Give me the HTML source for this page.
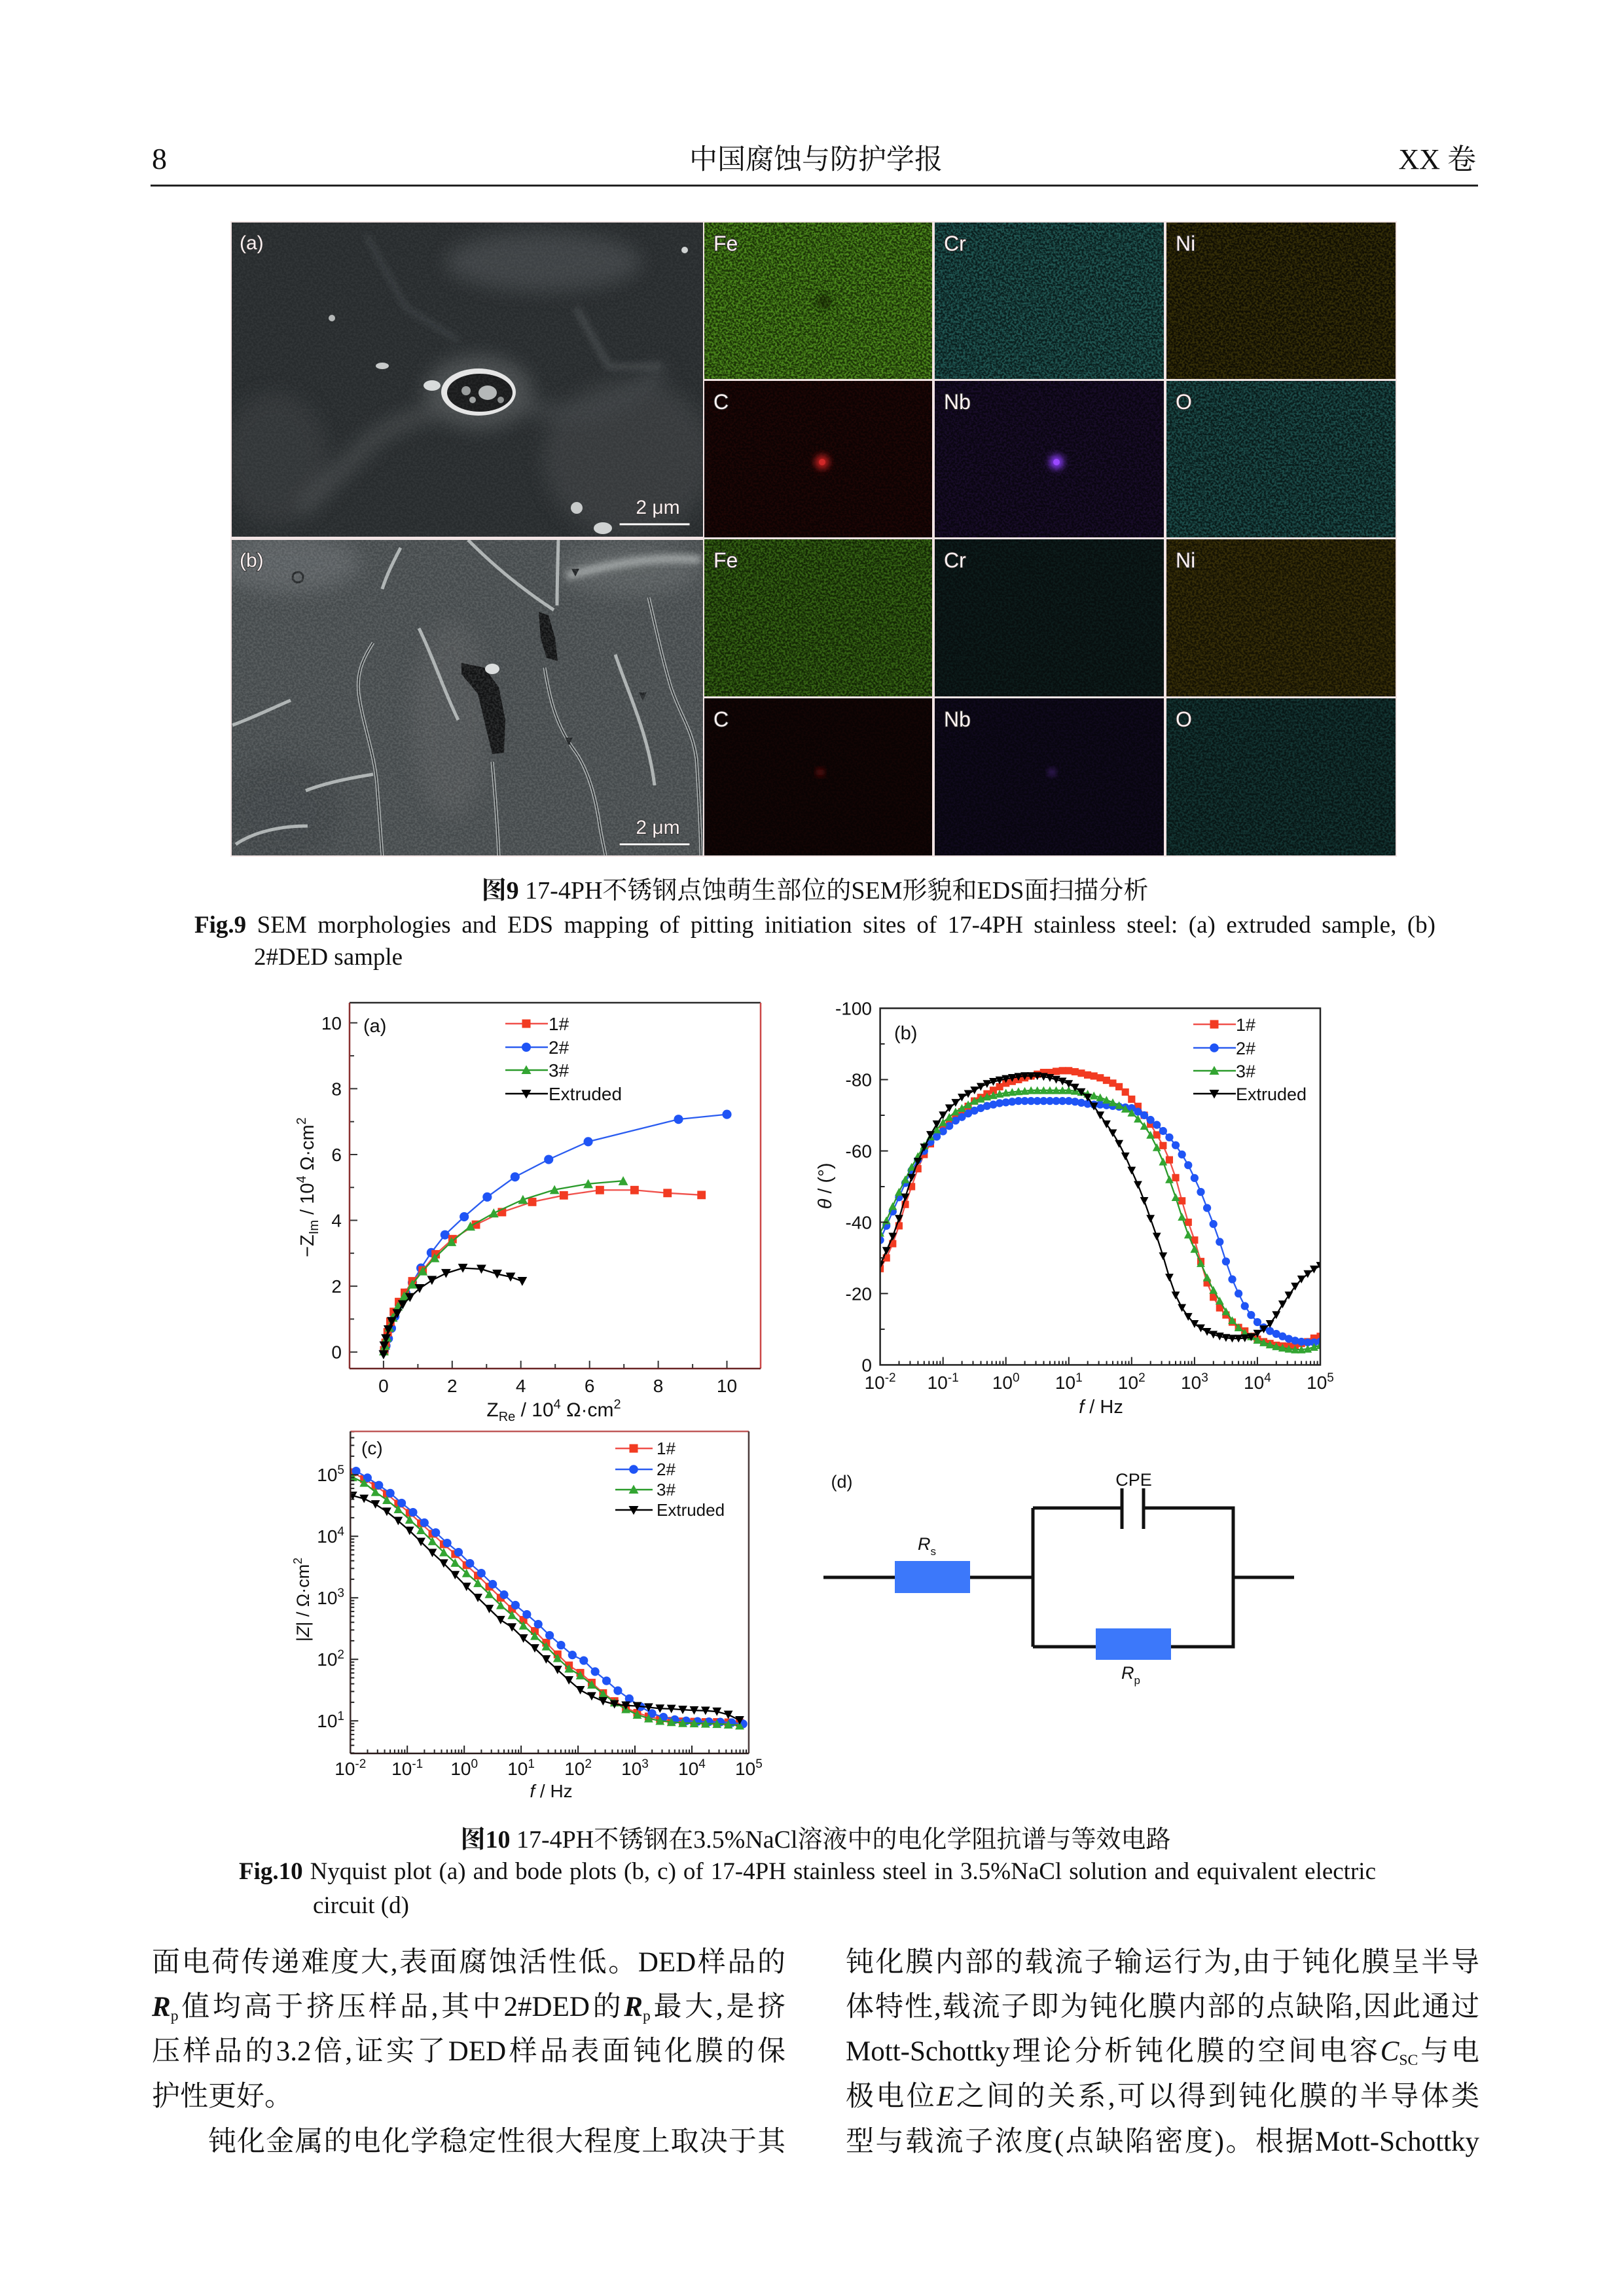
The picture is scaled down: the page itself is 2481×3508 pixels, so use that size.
<!DOCTYPE html>
<html><head><meta charset="utf-8">
<style>
html,body{margin:0;padding:0;background:#fff}
body{width:2481px;height:3508px;position:relative;overflow:hidden}
.t{position:absolute;white-space:nowrap;font-family:"Liberation Serif","Noto Serif CJK SC",serif;color:#111;line-height:50px}
.j{text-align:justify;text-align-last:justify;white-space:normal}
.t sub{font-size:0.55em;vertical-align:-0.3em;line-height:0}
svg text{font-family:"Liberation Sans",Arial,sans-serif}
.ln{fill:none;stroke-width:2.3;vector-effect:non-scaling-stroke}
</style></head><body>

<!-- header -->
<div class="t" style="left:232px;top:218px;font-size:46px">8</div>
<div class="t" style="left:1053px;top:220px;font-size:43px">中国腐蚀与防护学报</div>
<div class="t" style="right:226px;top:219px;font-size:44px">XX 卷</div>
<div style="position:absolute;left:230px;top:282px;width:2028px;height:3px;background:#222"></div>

<svg width="2481" height="3508" style="position:absolute;left:0;top:0" xmlns="http://www.w3.org/2000/svg">
<defs>
 <filter id="nf" x="0" y="0" width="100%" height="100%" color-interpolation-filters="sRGB">
  <feTurbulence type="fractalNoise" baseFrequency="0.32" numOctaves="2" seed="7"/>
  <feColorMatrix type="matrix" values="0 0 0 0 1  0 0 0 0 1  0 0 0 0 1  3.5 0 0 0 -1.3"/>
 </filter>
 <mask id="mk" maskUnits="userSpaceOnUse" x="350" y="335" width="1790" height="980">
  <rect x="350" y="335" width="1790" height="980" fill="#fff" filter="url(#nf)"/>
 </mask>
 <filter id="b12" x="-50%" y="-50%" width="200%" height="200%"><feGaussianBlur stdDeviation="14"/></filter>
 <filter id="b5" x="-50%" y="-50%" width="200%" height="200%"><feGaussianBlur stdDeviation="5"/></filter>
 <clipPath id="sa"><rect x="354" y="340" width="720" height="480"/></clipPath>
 <clipPath id="sb"><rect x="354" y="825" width="720" height="482"/></clipPath>
 <clipPath id="ca"><rect x="534" y="1532" width="628" height="559"/></clipPath>
 <clipPath id="cb"><rect x="1344.6" y="1540.5" width="672.4" height="544.9"/></clipPath>
 <clipPath id="cc"><rect x="535.3" y="2187" width="608.6" height="492"/></clipPath>

 <marker id="aS" markerUnits="userSpaceOnUse" viewBox="0 0 14 14" refX="7" refY="7" markerWidth="0.286" markerHeight="0.298" preserveAspectRatio="none"><rect x="1" y="1" width="12" height="12" fill="#f23b22"/></marker>
 <marker id="aC" markerUnits="userSpaceOnUse" viewBox="0 0 14 14" refX="7" refY="7" markerWidth="0.286" markerHeight="0.298" preserveAspectRatio="none"><circle cx="7" cy="7" r="6.6" fill="#1f54f5"/></marker>
 <marker id="aT" markerUnits="userSpaceOnUse" viewBox="0 0 14 14" refX="7" refY="7" markerWidth="0.286" markerHeight="0.298" preserveAspectRatio="none"><polygon points="7,0.3 13.9,13.2 0.1,13.2" fill="#33a532"/></marker>
 <marker id="aD" markerUnits="userSpaceOnUse" viewBox="0 0 14 14" refX="7" refY="7" markerWidth="0.286" markerHeight="0.298" preserveAspectRatio="none"><polygon points="0.1,0.8 13.9,0.8 7,13.7" fill="#000"/></marker>
 <marker id="bS" markerUnits="userSpaceOnUse" viewBox="0 0 14 14" refX="7" refY="7" markerWidth="0.1353" markerHeight="2.386" preserveAspectRatio="none"><rect x="1" y="1" width="12" height="12" fill="#f23b22"/></marker>
 <marker id="bC" markerUnits="userSpaceOnUse" viewBox="0 0 14 14" refX="7" refY="7" markerWidth="0.1353" markerHeight="2.386" preserveAspectRatio="none"><circle cx="7" cy="7" r="6.6" fill="#1f54f5"/></marker>
 <marker id="bT" markerUnits="userSpaceOnUse" viewBox="0 0 14 14" refX="7" refY="7" markerWidth="0.1353" markerHeight="2.386" preserveAspectRatio="none"><polygon points="7,0.3 13.9,13.2 0.1,13.2" fill="#33a532"/></marker>
 <marker id="bD" markerUnits="userSpaceOnUse" viewBox="0 0 14 14" refX="7" refY="7" markerWidth="0.1353" markerHeight="2.386" preserveAspectRatio="none"><polygon points="0.1,0.8 13.9,0.8 7,13.7" fill="#000"/></marker>
 <marker id="cS" markerUnits="userSpaceOnUse" viewBox="0 0 14 14" refX="7" refY="7" markerWidth="0.161" markerHeight="0.1489" preserveAspectRatio="none"><rect x="1" y="1" width="12" height="12" fill="#f23b22"/></marker>
 <marker id="cC" markerUnits="userSpaceOnUse" viewBox="0 0 14 14" refX="7" refY="7" markerWidth="0.161" markerHeight="0.1489" preserveAspectRatio="none"><circle cx="7" cy="7" r="6.6" fill="#1f54f5"/></marker>
 <marker id="cT" markerUnits="userSpaceOnUse" viewBox="0 0 14 14" refX="7" refY="7" markerWidth="0.161" markerHeight="0.1489" preserveAspectRatio="none"><polygon points="7,0.3 13.9,13.2 0.1,13.2" fill="#33a532"/></marker>
 <marker id="cD" markerUnits="userSpaceOnUse" viewBox="0 0 14 14" refX="7" refY="7" markerWidth="0.161" markerHeight="0.1489" preserveAspectRatio="none"><polygon points="0.1,0.8 13.9,0.8 7,13.7" fill="#000"/></marker>

 <path id="decb" d="M28.9 0v-6M45.8 0v-6M57.8 0v-6M67.2 0v-6M74.7 0v-6M81.2 0v-6M86.8 0v-6M91.7 0v-6"/>
 <path id="decc" d="M26.2 0v-6M41.5 0v-6M52.3 0v-6M60.8 0v-6M67.6 0v-6M73.5 0v-6M78.5 0v-6M83 0v-6"/>
 <path id="decy" d="M0 -28.3h6M0 -44.8h6M0 -56.6h6M0 -65.7h6M0 -73.1h6M0 -79.4h6M0 -84.9h6M0 -89.7h6"/>
</defs>

<!-- ============ FIGURE 9 ============ -->
<rect x="352" y="338" width="1782" height="971" fill="#f2e4e4"/>

<!-- SEM (a) -->
<g clip-path="url(#sa)">
 <rect x="354" y="340" width="720" height="480" fill="#282c2e"/>
 <g filter="url(#b12)" opacity="0.5">
  <ellipse cx="830" cy="400" rx="150" ry="45" fill="#55595b"/>
  <ellipse cx="960" cy="700" rx="130" ry="120" fill="#46494b"/>
  <ellipse cx="420" cy="700" rx="80" ry="100" fill="#3c4042"/>
  <path d="M705 620 Q600 640 560 680 T460 780" stroke="#5e6264" stroke-width="22" fill="none"/>
  <path d="M790 620 Q880 640 930 620 Q980 600 1010 560" stroke="#55595b" stroke-width="20" fill="none"/>
  <ellipse cx="731" cy="599" rx="82" ry="56" fill="#6a6e70"/>
 </g>
 <path d="M560 360 L620 470 L700 520" stroke="#3e4244" stroke-width="6" fill="none" filter="url(#b5)"/>
 <path d="M880 470 L930 560 L1010 560" stroke="#45494b" stroke-width="8" fill="none" filter="url(#b5)"/>
 <ellipse cx="731" cy="599" rx="57" ry="36" fill="#e6e6e6"/>
 <ellipse cx="733" cy="600" rx="50" ry="29" fill="#1a1b1c"/>
 <ellipse cx="745" cy="600" rx="14" ry="11" fill="#b5b8b8"/>
 <circle cx="712" cy="597" r="7" fill="#9a9d9d"/>
 <circle cx="765" cy="611" r="5" fill="#8a8d8d"/>
 <circle cx="722" cy="611" r="5" fill="#a0a3a3"/>
 <ellipse cx="660" cy="589" rx="13" ry="8" fill="#d9dcdc"/>
 <circle cx="1046" cy="382" r="5" fill="#d0d3d3"/>
 <ellipse cx="584" cy="559" rx="10" ry="5" fill="#c8cbcb"/>
 <circle cx="881" cy="776" r="9" fill="#c8cbcb"/>
 <ellipse cx="921" cy="807" rx="14" ry="9" fill="#d0d3d3"/>
 <circle cx="507" cy="486" r="5" fill="#b5b8b8"/>
 <rect x="354" y="340" width="720" height="480" fill="#c0c4c4" mask="url(#mk)" opacity="0.06"/>
</g>

<!-- SEM (b) -->
<g clip-path="url(#sb)">
 <rect x="354" y="825" width="720" height="482" fill="#464b4d"/>
 <g filter="url(#b12)" opacity="0.75">
  <ellipse cx="440" cy="860" rx="110" ry="45" fill="#606568"/>
  <ellipse cx="430" cy="1240" rx="90" ry="80" fill="#3d4244"/>
  <ellipse cx="960" cy="870" rx="110" ry="40" fill="#5d6264"/>
  <ellipse cx="690" cy="1100" rx="60" ry="150" fill="#535759"/>
 </g>
 <g fill="none" stroke="#aeb3b3" stroke-width="5">
  <path d="M570 982 C552 1010 545 1030 548 1060 C555 1110 572 1150 576 1200 C580 1250 582 1280 584 1307"/>
  <path d="M832 1020 C840 1070 850 1110 880 1150 C900 1180 910 1220 916 1260 C920 1285 924 1300 925 1307"/>
  <path d="M991 913 C1000 950 1010 1000 1025 1050 C1040 1095 1058 1115 1064 1160 C1068 1220 1070 1270 1071 1307"/>
  <path d="M715 825 C750 860 790 895 846 932"/>
  <path d="M853 825 C852 860 851 895 851 925"/>
  <path d="M752 1164 C756 1210 760 1260 762 1307"/>
  <path d="M467 1208 C500 1195 540 1188 570 1183"/>
  <path d="M355 1108 C390 1095 420 1080 444 1070"/>
  <path d="M612 837 C600 860 590 880 584 900"/>
  <path d="M360 1290 C390 1270 430 1262 470 1262"/>
  <path d="M640 960 C660 1000 680 1060 700 1100"/>
  <path d="M940 1000 C960 1060 990 1120 1000 1200"/>
 </g>
 <path d="M866 880 C940 860 1000 850 1070 855" stroke="#9ea3a3" stroke-width="12" fill="none" filter="url(#b5)"/>
 <g fill="none" stroke="#2e3234" stroke-width="2">
  <path d="M570 982 C552 1010 545 1030 548 1060 C555 1110 572 1150 576 1200 C580 1250 582 1280 584 1307"/>
  <path d="M832 1020 C840 1070 850 1110 880 1150 C900 1180 910 1220 916 1260 C920 1285 924 1300 925 1307"/>
  <path d="M991 913 C1000 950 1010 1000 1025 1050 C1040 1095 1058 1115 1064 1160 C1068 1220 1070 1270 1071 1307"/>
  <path d="M752 1164 C756 1210 760 1260 762 1307"/>
 </g>
 <path d="M705 1013 L740 1020 L762 1050 L772 1100 L770 1150 L752 1152 L742 1110 L730 1060 L705 1030 Z" fill="#121314"/>
 <path d="M823 935 L838 940 L848 975 L852 1010 L835 1005 L826 975 Z" fill="#121314"/>
 <ellipse cx="752" cy="1022" rx="11" ry="8" fill="#dcdfdf"/>
 <polygon points="976,1058 988,1058 982,1070" fill="#222527"/>
 <polygon points="863,1127 875,1127 869,1139" fill="#222527"/>
 <polygon points="873,869 885,869 879,881" fill="#222527"/>
 <circle cx="455" cy="882" r="8" fill="none" stroke="#26292b" stroke-width="3"/>
 <rect x="354" y="825" width="720" height="482" fill="#d8dcdc" mask="url(#mk)" opacity="0.12"/>
</g>

<!-- SEM labels / scale bars -->
<g font-size="30" fill="#fbf0f0" stroke="#333" stroke-width="2" paint-order="stroke">
 <text x="366" y="381">(a)</text>
 <text x="366" y="866">(b)</text>
 <text x="1005" y="785" text-anchor="middle">2 μm</text>
 <text x="1005" y="1274" text-anchor="middle">2 μm</text>
</g>
<rect x="946" y="799" width="108" height="4" fill="#fff" stroke="#333" stroke-width="1"/>
<rect x="946" y="1288" width="108" height="4" fill="#fff" stroke="#333" stroke-width="1"/>

<!-- EDS tiles -->
<g>
 <rect x="1076" y="340" width="348" height="239" fill="#1c3507"/><rect x="1076" y="340" width="348" height="239" fill="#6cbf2a" mask="url(#mk)" opacity="0.6"/>
 <rect x="1428" y="340" width="350" height="239" fill="#0a1f1e"/><rect x="1428" y="340" width="350" height="239" fill="#45b0a8" mask="url(#mk)" opacity="0.38"/>
 <rect x="1782" y="340" width="350" height="239" fill="#110f03"/><rect x="1782" y="340" width="350" height="239" fill="#8a7812" mask="url(#mk)" opacity="0.3"/>

 <rect x="1076" y="582" width="348" height="239" fill="#0d0303"/><rect x="1076" y="582" width="348" height="239" fill="#8a1a14" mask="url(#mk)" opacity="0.13"/>
 <rect x="1428" y="582" width="350" height="239" fill="#0a0611"/><rect x="1428" y="582" width="350" height="239" fill="#6a30b0" mask="url(#mk)" opacity="0.15"/>
 <rect x="1782" y="582" width="350" height="239" fill="#091c1b"/><rect x="1782" y="582" width="350" height="239" fill="#3c9c98" mask="url(#mk)" opacity="0.38"/>

 <rect x="1076" y="824" width="348" height="240" fill="#142805"/><rect x="1076" y="824" width="348" height="240" fill="#58a024" mask="url(#mk)" opacity="0.5"/>
 <rect x="1428" y="824" width="350" height="240" fill="#080f0f"/><rect x="1428" y="824" width="350" height="240" fill="#1e4a46" mask="url(#mk)" opacity="0.22"/>
 <rect x="1782" y="824" width="350" height="240" fill="#161303"/><rect x="1782" y="824" width="350" height="240" fill="#6e5c10" mask="url(#mk)" opacity="0.38"/>

 <rect x="1076" y="1067" width="348" height="240" fill="#0a0303"/><rect x="1076" y="1067" width="348" height="240" fill="#4a1210" mask="url(#mk)" opacity="0.14"/>
 <rect x="1428" y="1067" width="350" height="240" fill="#08060f"/><rect x="1428" y="1067" width="350" height="240" fill="#32185a" mask="url(#mk)" opacity="0.18"/>
 <rect x="1782" y="1067" width="350" height="240" fill="#081716"/><rect x="1782" y="1067" width="350" height="240" fill="#2e7a76" mask="url(#mk)" opacity="0.3"/>

 <circle cx="1259" cy="461" r="11" fill="#0a1404" opacity="0.6" filter="url(#b5)"/>
 <circle cx="1256" cy="706" r="11" fill="#b81c1c" filter="url(#b5)"/>
 <circle cx="1256" cy="706" r="5" fill="#d02828"/>
 <circle cx="1614" cy="706" r="11" fill="#8038e8" filter="url(#b5)"/>
 <circle cx="1614" cy="706" r="5" fill="#9a48ff"/>
 <circle cx="1253" cy="1180" r="5" fill="#901818" filter="url(#b5)"/>
 <circle cx="1607" cy="1180" r="5" fill="#502888" filter="url(#b5)"/>
</g>
<g font-size="32" fill="#fff2f2" stroke="#2a2a2a" stroke-width="2.2" paint-order="stroke">
 <text x="1090" y="383">Fe</text><text x="1442" y="383">Cr</text><text x="1796" y="383">Ni</text>
 <text x="1090" y="625">C</text><text x="1442" y="625">Nb</text><text x="1796" y="625">O</text>
 <text x="1090" y="867">Fe</text><text x="1442" y="867">Cr</text><text x="1796" y="867">Ni</text>
 <text x="1090" y="1110">C</text><text x="1442" y="1110">Nb</text><text x="1796" y="1110">O</text>
</g>

<!-- ============ CHART (a) ============ -->
<g clip-path="url(#ca)">
 <g transform="translate(585.9,2065.7) scale(52.46,50.29)">
  <polyline class="ln" stroke="#2a5cf0" marker-start="url(#aC)" marker-mid="url(#aC)" marker-end="url(#aC)" points="0.02,-0.03 0.07,-0.19 0.14,-0.41 0.23,-0.72 0.33,-1.08 0.46,-1.44 0.65,-1.79 0.84,-2.11 1.09,-2.55 1.39,-3.02 1.79,-3.56 2.35,-4.11 3.02,-4.71 3.83,-5.32 4.81,-5.85 5.96,-6.39 8.59,-7.07 10,-7.22"/>
  <polyline class="ln" stroke="#f0504a" marker-start="url(#aS)" marker-mid="url(#aS)" marker-end="url(#aS)" points="0.02,-0.05 0.06,-0.28 0.12,-0.6 0.2,-0.92 0.3,-1.22 0.45,-1.52 0.62,-1.8 0.84,-2.15 1.14,-2.48 1.52,-2.97 2.01,-3.43 2.69,-3.87 3.45,-4.25 4.33,-4.56 5.25,-4.76 6.30,-4.92 7.31,-4.92 8.27,-4.83 9.26,-4.77"/>
  <polyline class="ln" stroke="#2a9a2a" marker-start="url(#aT)" marker-mid="url(#aT)" marker-end="url(#aT)" points="0.01,-0.03 0.05,-0.2 0.1,-0.45 0.17,-0.75 0.27,-1.05 0.42,-1.39 0.6,-1.7 0.84,-2.06 1.14,-2.46 1.49,-2.86 1.98,-3.35 2.53,-3.82 3.21,-4.22 4.06,-4.63 4.98,-4.93 5.96,-5.11 6.98,-5.2"/>
  <polyline class="ln" stroke="#000" marker-start="url(#aD)" marker-mid="url(#aD)" marker-end="url(#aD)" points="0,0.08 0.02,-0.19 0.07,-0.41 0.14,-0.68 0.24,-0.93 0.40,-1.17 0.56,-1.44 0.77,-1.66 1.05,-1.93 1.41,-2.18 1.82,-2.39 2.31,-2.55 2.85,-2.52 3.31,-2.37 3.70,-2.28 4.04,-2.15"/>
 </g>
</g>
<path d="M585.9 2091v-12M690.8 2091v-12M795.7 2091v-12M900.7 2091v-12M1005.6 2091v-12M1110.5 2091v-12M638.4 2091v-7M743.3 2091v-7M848.2 2091v-7M953.2 2091v-7M1058.1 2091v-7M534 2065.7h12M534 1965.1h12M534 1864.5h12M534 1764h12M534 1663.4h12M534 1562.8h12M534 2015.4h7M534 1914.8h7M534 1814.3h7M534 1713.7h7M534 1613.1h7" stroke="#333" stroke-width="2" fill="none"/>
<path d="M534 1532H1162" stroke="#2a2a2a" stroke-width="2.5"/>
<path d="M534 1532V2091" stroke="#8a3030" stroke-width="2.5"/>
<path d="M1162 1532V2091" stroke="#cc4848" stroke-width="2.5"/>
<path d="M534 2091H1162" stroke="#6a2424" stroke-width="2.5"/>
<g font-size="28" fill="#111" text-anchor="end">
 <text x="522" y="2075.7">0</text><text x="522" y="1975.1">2</text><text x="522" y="1874.5">4</text><text x="522" y="1774">6</text><text x="522" y="1673.4">8</text><text x="522" y="1572.8">10</text>
</g>
<g font-size="28" fill="#111" text-anchor="middle">
 <text x="585.9" y="2127">0</text><text x="690.8" y="2127">2</text><text x="795.7" y="2127">4</text><text x="900.7" y="2127">6</text><text x="1005.6" y="2127">8</text><text x="1110.5" y="2127">10</text>
</g>
<text x="555" y="1577" font-size="29" fill="#111">(a)</text>
<text x="846" y="2164" text-anchor="middle" font-size="30" fill="#111">Z<tspan font-size="20" dy="7">Re</tspan><tspan dy="-7"> / 10</tspan><tspan font-size="20" dy="-12">4</tspan><tspan dy="12"> Ω·cm</tspan><tspan font-size="20" dy="-12">2</tspan></text>
<text transform="translate(479,1814) rotate(-90)" text-anchor="middle" font-size="29" fill="#111">−Z<tspan font-size="20" dy="7">Im</tspan><tspan dy="-7"> / 10</tspan><tspan font-size="20" dy="-12">4</tspan><tspan dy="12"> Ω·cm</tspan><tspan font-size="20" dy="-12">2</tspan></text>
<g stroke-width="2.5">
 <line x1="772" y1="1564" x2="837" y2="1564" stroke="#f0504a"/>
 <line x1="772" y1="1600" x2="837" y2="1600" stroke="#2a5cf0"/>
 <line x1="772" y1="1635" x2="837" y2="1635" stroke="#2a9a2a"/>
 <line x1="772" y1="1671" x2="837" y2="1671" stroke="#000"/>
</g>
<rect x="797.5" y="1557.5" width="13" height="13" fill="#f23b22"/>
<circle cx="804" cy="1600" r="7" fill="#1f54f5"/>
<polygon points="804,1627.5 811.5,1641 796.5,1641" fill="#33a532"/>
<polygon points="796.5,1665 811.5,1665 804,1678.5" fill="#000"/>
<g font-size="28" fill="#111">
 <text x="838" y="1574">1#</text><text x="838" y="1610">2#</text><text x="838" y="1645">3#</text><text x="838" y="1681">Extruded</text>
</g>

<!-- ============ CHART (b) ============ -->
<g clip-path="url(#cb)">
 <g transform="translate(1536.7,2085.4) scale(96.06,5.449)">
  <polyline class="ln" stroke="#f0504a" marker-start="url(#bS)" marker-mid="url(#bS)" marker-end="url(#bS)" points="-2,-27 -1.9,-30 -1.8,-34 -1.7,-39 -1.6,-45 -1.5,-50 -1.4,-55 -1.3,-59 -1.2,-62 -1.1,-64.5 -1,-66 -0.9,-68 -0.8,-69.5 -0.7,-71 -0.6,-72.5 -0.5,-74 -0.4,-75 -0.3,-76 -0.2,-77 -0.1,-78 0,-79 0.1,-79.5 0.2,-80 0.3,-80.5 0.4,-81 0.5,-81.5 0.6,-82 0.7,-82 0.8,-82.3 0.9,-82.5 1,-82.5 1.1,-82.2 1.2,-81.8 1.3,-81.3 1.4,-81 1.5,-80.5 1.6,-79.8 1.7,-79 1.8,-78 1.9,-76.5 2,-74.5 2.1,-72.5 2.2,-70 2.3,-67.5 2.4,-64.5 2.5,-61.5 2.6,-57.5 2.7,-52.5 2.8,-46 2.9,-40 3,-35 3.1,-29 3.2,-23 3.3,-19 3.4,-16 3.5,-14 3.6,-12 3.7,-10.5 3.8,-9.5 3.9,-8 4,-7.2 4.1,-6.5 4.2,-6 4.3,-5.5 4.4,-5.3 4.5,-5.2 4.6,-5.5 4.7,-6 4.8,-6.5 4.9,-7.5 5,-8"/>
  <polyline class="ln" stroke="#2a5cf0" marker-start="url(#bC)" marker-mid="url(#bC)" marker-end="url(#bC)" points="-2,-35 -1.9,-39 -1.8,-43 -1.7,-47 -1.6,-51 -1.5,-54.5 -1.4,-57.5 -1.3,-60 -1.2,-62.5 -1.1,-64 -1,-65.5 -0.9,-67 -0.8,-68.5 -0.7,-69.5 -0.6,-70.5 -0.5,-71.3 -0.4,-72 -0.3,-72.6 -0.2,-73 -0.1,-73.4 0,-73.6 0.1,-73.8 0.2,-74 0.3,-74 0.4,-74 0.5,-74 0.6,-74 0.7,-74 0.8,-74 0.9,-74 1,-74 1.1,-73.8 1.2,-73.5 1.3,-73.2 1.4,-73 1.5,-73 1.6,-72.8 1.7,-72.6 1.8,-72.4 1.9,-72.2 2,-72 2.1,-71 2.2,-70 2.3,-68.7 2.4,-67.3 2.5,-65.6 2.6,-63.8 2.7,-61.6 2.8,-59 2.9,-56 3,-52.4 3.1,-48.5 3.2,-44 3.3,-39.5 3.4,-34.5 3.5,-29 3.6,-24 3.7,-20 3.8,-16.5 3.9,-14 4,-12 4.1,-10.5 4.2,-9.5 4.3,-8.7 4.4,-8 4.5,-7.3 4.6,-6.8 4.7,-6.5 4.8,-6.3 4.9,-6.3 5,-6.5"/>
  <polyline class="ln" stroke="#2a9a2a" marker-start="url(#bT)" marker-mid="url(#bT)" marker-end="url(#bT)" points="-2,-37 -1.9,-40.5 -1.8,-44.5 -1.7,-48.5 -1.6,-52 -1.5,-55.5 -1.4,-58.5 -1.3,-61.5 -1.2,-64 -1.1,-66 -1,-68 -0.9,-69.5 -0.8,-71 -0.7,-72 -0.6,-73 -0.5,-74 -0.4,-74.6 -0.3,-75.2 -0.2,-75.6 -0.1,-76 0,-76.3 0.1,-76.5 0.2,-76.7 0.3,-76.8 0.4,-77 0.5,-77 0.6,-77 0.7,-77 0.8,-77 0.9,-77 1,-77 1.1,-76.8 1.2,-76.5 1.3,-76 1.4,-75.5 1.5,-75 1.6,-74.3 1.7,-73.6 1.8,-72.8 1.9,-71.8 2,-70.7 2.1,-69 2.2,-67 2.3,-64.5 2.4,-61 2.5,-57 2.6,-52 2.7,-47 2.8,-41.5 2.9,-36.5 3,-32.5 3.1,-28.5 3.2,-24.5 3.3,-21 3.4,-18 3.5,-15 3.6,-12.5 3.7,-10.5 3.8,-9 3.9,-8 4,-7 4.1,-6.3 4.2,-5.7 4.3,-5.2 4.4,-4.8 4.5,-4.5 4.6,-4.3 4.7,-4.3 4.8,-4.5 4.9,-5 5,-5.5"/>
  <polyline class="ln" stroke="#000" marker-start="url(#bD)" marker-mid="url(#bD)" marker-end="url(#bD)" points="-2,-28 -1.9,-32 -1.8,-36 -1.7,-41 -1.6,-47 -1.5,-52.5 -1.4,-57 -1.3,-61 -1.2,-64.5 -1.1,-67.5 -1,-70 -0.9,-72 -0.8,-73.5 -0.7,-75 -0.6,-76 -0.5,-77 -0.4,-78 -0.3,-78.8 -0.2,-79.4 -0.1,-79.8 0,-80.2 0.1,-80.5 0.2,-80.8 0.3,-81 0.4,-81 0.5,-81 0.6,-80.8 0.7,-80.5 0.8,-80 0.9,-79.5 1,-78.8 1.1,-77.8 1.2,-76.5 1.3,-75 1.4,-72.5 1.5,-70 1.6,-67.5 1.7,-65 1.8,-62 1.9,-58.5 2,-54.5 2.1,-50.5 2.2,-46 2.3,-41 2.4,-36 2.5,-30.5 2.6,-24.5 2.7,-19.5 2.8,-16 2.9,-13.5 3,-11.5 3.1,-10.3 3.2,-9.3 3.3,-8.5 3.4,-8 3.5,-7.6 3.6,-7.4 3.7,-7.4 3.8,-7.5 3.9,-7.8 4,-8.8 4.1,-10 4.2,-11.5 4.3,-14 4.4,-17 4.5,-19.5 4.6,-22 4.7,-24 4.8,-25.5 4.9,-26.8 5,-27.8"/>
 </g>
</g>
<g stroke="#222" stroke-width="2" fill="none">
 <path d="M1440.7 2085.4v-12M1536.7 2085.4v-12M1632.8 2085.4v-12M1728.8 2085.4v-12M1824.9 2085.4v-12M1920.9 2085.4v-12M1344.6 1976.4h12M1344.6 1867.4h12M1344.6 1758.5h12M1344.6 1649.5h12M1344.6 2030.9h7M1344.6 1921.9h7M1344.6 1813h7M1344.6 1704h7M1344.6 1595h7"/>
 <use href="#decb" x="1344.6" y="2085.4"/><use href="#decb" x="1440.7" y="2085.4"/><use href="#decb" x="1536.7" y="2085.4"/><use href="#decb" x="1632.8" y="2085.4"/><use href="#decb" x="1728.8" y="2085.4"/><use href="#decb" x="1824.9" y="2085.4"/><use href="#decb" x="1920.9" y="2085.4"/>
 <rect x="1344.6" y="1540.5" width="672.4" height="544.9" stroke-width="2.5"/>
</g>
<g font-size="28" fill="#111" text-anchor="end">
 <text x="1332" y="1550.5">-100</text><text x="1332" y="1659.5">-80</text><text x="1332" y="1768.5">-60</text><text x="1332" y="1877.4">-40</text><text x="1332" y="1986.4">-20</text><text x="1332" y="2095.4">0</text>
</g>
<g font-size="28" fill="#111" text-anchor="middle">
 <text x="1344.6" y="2122">10<tspan font-size="19" dy="-11">-2</tspan></text>
 <text x="1440.7" y="2122">10<tspan font-size="19" dy="-11">-1</tspan></text>
 <text x="1536.7" y="2122">10<tspan font-size="19" dy="-11">0</tspan></text>
 <text x="1632.8" y="2122">10<tspan font-size="19" dy="-11">1</tspan></text>
 <text x="1728.8" y="2122">10<tspan font-size="19" dy="-11">2</tspan></text>
 <text x="1824.9" y="2122">10<tspan font-size="19" dy="-11">3</tspan></text>
 <text x="1920.9" y="2122">10<tspan font-size="19" dy="-11">4</tspan></text>
 <text x="2017" y="2122">10<tspan font-size="19" dy="-11">5</tspan></text>
</g>
<text x="1366" y="1588" font-size="29" fill="#111">(b)</text>
<text x="1682" y="2159" text-anchor="middle" font-size="29" fill="#111"><tspan font-style="italic">f</tspan> / Hz</text>
<text transform="translate(1270,1812) rotate(-90)" text-anchor="middle" font-size="29" fill="#111"><tspan font-style="italic">θ</tspan> / (°)</text>
<g stroke-width="2.5">
 <line x1="1823" y1="1565" x2="1888" y2="1565" stroke="#f0504a"/>
 <line x1="1823" y1="1601" x2="1888" y2="1601" stroke="#2a5cf0"/>
 <line x1="1823" y1="1636" x2="1888" y2="1636" stroke="#2a9a2a"/>
 <line x1="1823" y1="1671" x2="1888" y2="1671" stroke="#000"/>
</g>
<rect x="1848.5" y="1558.5" width="13" height="13" fill="#f23b22"/>
<circle cx="1855" cy="1601" r="6.8" fill="#1f54f5"/>
<polygon points="1855,1628.5 1862.5,1642 1847.5,1642" fill="#33a532"/>
<polygon points="1847.5,1665 1862.5,1665 1855,1678.5" fill="#000"/>
<g font-size="27" fill="#111">
 <text x="1888" y="1575">1#</text><text x="1888" y="1611">2#</text><text x="1888" y="1646">3#</text><text x="1888" y="1681">Extruded</text>
</g>

<!-- ============ CHART (c) ============ -->
<g clip-path="url(#cc)">
 <g transform="translate(709.2,2723.2) scale(86.94,94)">
  <polyline class="ln" stroke="#f0504a" stroke-width="3" marker-start="url(#cS)" marker-mid="url(#cS)" marker-end="url(#cS)" points="-1.96,-5.04 -1.76,-4.93 -1.56,-4.82 -1.36,-4.69 -1.16,-4.53 -0.96,-4.38 -0.76,-4.21 -0.56,-4.04 -0.36,-3.87 -0.16,-3.71 0.04,-3.53 0.24,-3.36 0.44,-3.18 0.64,-3.0 0.84,-2.82 1.04,-2.64 1.24,-2.46 1.44,-2.27 1.64,-2.08 1.84,-1.90 2.04,-1.78 2.24,-1.62 2.44,-1.45 2.64,-1.32 2.84,-1.21 3.04,-1.13 3.24,-1.07 3.44,-1.03 3.64,-1.0 3.84,-0.99 4.04,-0.985 4.24,-0.98 4.44,-0.98 4.64,-0.975 4.84,-0.97"/>
  <polyline class="ln" stroke="#2a5cf0" marker-start="url(#cC)" marker-mid="url(#cC)" marker-end="url(#cC)" points="-1.9,-5.06 -1.7,-4.95 -1.5,-4.83 -1.3,-4.70 -1.1,-4.54 -0.9,-4.39 -0.7,-4.22 -0.5,-4.06 -0.3,-3.89 -0.1,-3.74 0.1,-3.56 0.3,-3.40 0.5,-3.22 0.7,-3.05 0.9,-2.88 1.1,-2.73 1.3,-2.57 1.5,-2.39 1.7,-2.23 1.9,-2.07 2.1,-1.98 2.3,-1.80 2.5,-1.65 2.7,-1.49 2.9,-1.36 3.1,-1.23 3.3,-1.12 3.5,-1.06 3.7,-1.02 3.9,-1.0 4.1,-0.99 4.3,-0.985 4.5,-0.98 4.7,-0.97 4.9,-0.95"/>
  <polyline class="ln" stroke="#2a9a2a" marker-start="url(#cT)" marker-mid="url(#cT)" marker-end="url(#cT)" points="-1.96,-4.96 -1.76,-4.87 -1.56,-4.72 -1.36,-4.59 -1.16,-4.44 -0.96,-4.27 -0.76,-4.10 -0.56,-3.92 -0.36,-3.74 -0.16,-3.57 0.04,-3.40 0.24,-3.24 0.44,-3.06 0.64,-2.88 0.84,-2.72 1.04,-2.55 1.24,-2.38 1.44,-2.21 1.64,-2.02 1.84,-1.85 2.04,-1.74 2.24,-1.59 2.44,-1.44 2.64,-1.30 2.84,-1.19 3.04,-1.10 3.24,-1.04 3.44,-1.0 3.64,-0.98 3.84,-0.965 4.04,-0.96 4.24,-0.955 4.44,-0.95 4.64,-0.94 4.84,-0.925"/>
  <polyline class="ln" stroke="#000" marker-start="url(#cD)" marker-mid="url(#cD)" marker-end="url(#cD)" points="-1.96,-4.66 -1.76,-4.61 -1.56,-4.52 -1.36,-4.40 -1.16,-4.25 -0.96,-4.09 -0.76,-3.91 -0.56,-3.73 -0.36,-3.56 -0.16,-3.37 0.04,-3.18 0.24,-3.0 0.44,-2.82 0.64,-2.64 0.84,-2.52 1.04,-2.34 1.24,-2.18 1.44,-2.0 1.64,-1.83 1.84,-1.66 2.04,-1.50 2.24,-1.40 2.44,-1.32 2.64,-1.27 2.84,-1.25 3.04,-1.24 3.24,-1.22 3.44,-1.20 3.64,-1.195 3.84,-1.18 4.04,-1.17 4.24,-1.165 4.44,-1.15 4.64,-1.10 4.84,-1.01"/>
 </g>
</g>
<g clip-path="url(#cc)" stroke="#222" stroke-width="2" fill="none">
 <path d="M622.2 2679v-12M709.2 2679v-12M796.1 2679v-12M883.1 2679v-12M970 2679v-12M1057 2679v-12M535.3 2629.2h12M535.3 2535.2h12M535.3 2441.2h12M535.3 2347.2h12M535.3 2253.2h12"/>
 <use href="#decc" x="535.3" y="2679"/><use href="#decc" x="622.2" y="2679"/><use href="#decc" x="709.2" y="2679"/><use href="#decc" x="796.1" y="2679"/><use href="#decc" x="883.1" y="2679"/><use href="#decc" x="970" y="2679"/><use href="#decc" x="1057" y="2679"/>
 <use href="#decy" x="535.3" y="2723.2"/><use href="#decy" x="535.3" y="2629.2"/><use href="#decy" x="535.3" y="2535.2"/><use href="#decy" x="535.3" y="2441.2"/><use href="#decy" x="535.3" y="2347.2"/><use href="#decy" x="535.3" y="2253.2"/>
</g>
<path d="M535.3 2187H1143.9" stroke="#c05a5a" stroke-width="2.5"/>
<path d="M535.3 2187V2679" stroke="#3a2a2a" stroke-width="2.5"/>
<path d="M1143.9 2187V2679" stroke="#4a3a3a" stroke-width="2.5"/>
<path d="M535.3 2679H1143.9" stroke="#2a1a1a" stroke-width="2.5"/>
<g font-size="28" fill="#111" text-anchor="end">
 <text x="526" y="2639.2">10<tspan font-size="19" dy="-11">1</tspan></text>
 <text x="526" y="2545.2">10<tspan font-size="19" dy="-11">2</tspan></text>
 <text x="526" y="2451.2">10<tspan font-size="19" dy="-11">3</tspan></text>
 <text x="526" y="2357.2">10<tspan font-size="19" dy="-11">4</tspan></text>
 <text x="526" y="2263.2">10<tspan font-size="19" dy="-11">5</tspan></text>
</g>
<g font-size="28" fill="#111" text-anchor="middle">
 <text x="535.3" y="2712">10<tspan font-size="19" dy="-11">-2</tspan></text>
 <text x="622.2" y="2712">10<tspan font-size="19" dy="-11">-1</tspan></text>
 <text x="709.2" y="2712">10<tspan font-size="19" dy="-11">0</tspan></text>
 <text x="796.1" y="2712">10<tspan font-size="19" dy="-11">1</tspan></text>
 <text x="883.1" y="2712">10<tspan font-size="19" dy="-11">2</tspan></text>
 <text x="970" y="2712">10<tspan font-size="19" dy="-11">3</tspan></text>
 <text x="1057" y="2712">10<tspan font-size="19" dy="-11">4</tspan></text>
 <text x="1143.9" y="2712">10<tspan font-size="19" dy="-11">5</tspan></text>
</g>
<text x="552" y="2222" font-size="28" fill="#111">(c)</text>
<text x="842" y="2746" text-anchor="middle" font-size="28" fill="#111"><tspan font-style="italic">f</tspan> / Hz</text>
<text transform="translate(472,2444) rotate(-90)" text-anchor="middle" font-size="27" fill="#111">|<tspan font-style="italic">Z</tspan>| / Ω·cm<tspan font-size="18" dy="-11">2</tspan></text>
<g stroke-width="2.5">
 <line x1="940" y1="2213" x2="997" y2="2213" stroke="#f0504a"/>
 <line x1="940" y1="2245" x2="997" y2="2245" stroke="#2a5cf0"/>
 <line x1="940" y1="2276" x2="997" y2="2276" stroke="#2a9a2a"/>
 <line x1="940" y1="2307" x2="997" y2="2307" stroke="#000"/>
</g>
<rect x="961.5" y="2206.5" width="13" height="13" fill="#f23b22"/>
<circle cx="968" cy="2245" r="6.8" fill="#1f54f5"/>
<polygon points="968,2268.5 975.5,2282 960.5,2282" fill="#33a532"/>
<polygon points="960.5,2301 975.5,2301 968,2314.5" fill="#000"/>
<g font-size="26" fill="#111">
 <text x="1003" y="2222">1#</text><text x="1003" y="2254">2#</text><text x="1003" y="2285">3#</text><text x="1003" y="2316">Extruded</text>
</g>

<!-- ============ CIRCUIT (d) ============ -->
<path d="M1258 2410H1367M1482 2410H1578M1578 2304V2516M1578 2304H1714M1747 2304H1884V2516H1789M1674 2516H1578M1884 2410H1977M1714 2274V2336M1747 2274V2336" stroke="#111" stroke-width="5" fill="none"/>
<rect x="1367" y="2385" width="115" height="49" fill="#3c78fa"/>
<rect x="1674" y="2488" width="115" height="48" fill="#3c78fa"/>
<text x="1286" y="2273" text-anchor="middle" font-size="27" fill="#111">(d)</text>
<text x="1732" y="2270" text-anchor="middle" font-size="27" fill="#111">CPE</text>
<text x="1402" y="2368" font-size="27" fill="#111"><tspan font-style="italic">R</tspan><tspan font-size="17" dy="8">s</tspan></text>
<text x="1713" y="2565" font-size="27" fill="#111"><tspan font-style="italic">R</tspan><tspan font-size="17" dy="8">p</tspan></text>
</svg>

<!-- captions -->
<div class="t" style="left:0;width:2490px;text-align:center;top:1336px;font-size:38px"><b>图9</b> 17-4PH不锈钢点蚀萌生部位的SEM形貌和EDS面扫描分析</div>
<div class="t j" style="left:297px;width:1896px;top:1389px;font-size:37px"><b>Fig.9</b> SEM morphologies and EDS mapping of pitting initiation sites of 17-4PH stainless steel: (a) extruded sample, (b)</div>
<div class="t" style="left:388px;top:1438px;font-size:37px">2#DED sample</div>

<div class="t" style="left:0;width:2492px;text-align:center;top:2786px;font-size:38px"><b>图10</b> 17-4PH不锈钢在3.5%NaCl溶液中的电化学阻抗谱与等效电路</div>
<div class="t j" style="left:365px;width:1737px;top:2835px;font-size:37px"><b>Fig.10</b> Nyquist plot (a) and bode plots (b, c) of 17-4PH stainless steel in 3.5%NaCl solution and equivalent electric</div>
<div class="t" style="left:478px;top:2887px;font-size:37px">circuit (d)</div>

<!-- body text left column -->
<div class="t j" style="left:232px;width:968px;top:2974px;font-size:43px">面电荷传递难度大,表面腐蚀活性低。DED样品的</div>
<div class="t j" style="left:232px;width:968px;top:3042px;font-size:43px"><b><i>R</i></b><sub>p</sub>值均高于挤压样品,其中2#DED的<b><i>R</i></b><sub>p</sub>最大,是挤</div>
<div class="t j" style="left:232px;width:968px;top:3110px;font-size:43px">压样品的3.2倍,证实了DED样品表面钝化膜的保</div>
<div class="t" style="left:232px;top:3179px;font-size:43px">护性更好。</div>
<div class="t j" style="left:232px;width:968px;top:3248px;font-size:43px;text-indent:86px">钝化金属的电化学稳定性很大程度上取决于其</div>

<!-- body text right column -->
<div class="t j" style="left:1292px;width:968px;top:2974px;font-size:43px">钝化膜内部的载流子输运行为,由于钝化膜呈半导</div>
<div class="t j" style="left:1292px;width:968px;top:3042px;font-size:43px">体特性,载流子即为钝化膜内部的点缺陷,因此通过</div>
<div class="t j" style="left:1292px;width:968px;top:3110px;font-size:43px">Mott-Schottky理论分析钝化膜的空间电容<i>C</i><sub>SC</sub>与电</div>
<div class="t j" style="left:1292px;width:968px;top:3179px;font-size:43px">极电位<i>E</i>之间的关系,可以得到钝化膜的半导体类</div>
<div class="t j" style="left:1292px;width:968px;top:3248px;font-size:43px">型与载流子浓度(点缺陷密度)。根据Mott-Schottky</div>

</body></html>
